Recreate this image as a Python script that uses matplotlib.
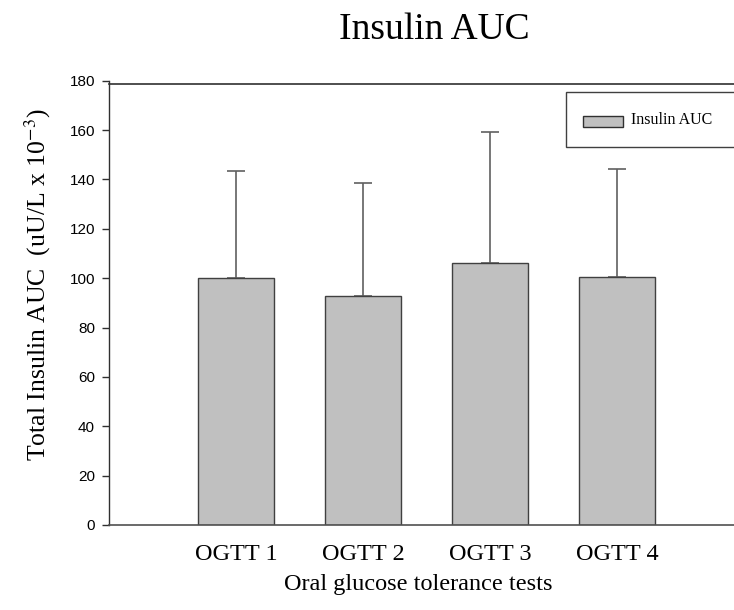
import matplotlib.pyplot as plt
from matplotlib.patches import Rectangle

labels = ["OGTT 1", "OGTT 2", "OGTT 3", "OGTT 4"]
auc_mean = [100.2, 92.8, 106.0, 100.6]
auc_err = [43.4, 45.6, 53.2, 43.6]

serif = ["Times New Roman", "Liberation Serif", "DejaVu Serif"]
sans = ["Arial", "Liberation Sans", "DejaVu Sans"]
plt.rcParams["mathtext.fontset"] = "stix"

fig = plt.figure(figsize=(7.34, 6.1), dpi=100)
ax = fig.add_axes([109/734, 85/610, 625/734, 444.3/610])

x = [1, 2, 3, 4]
ax.bar(x, auc_mean, width=0.6, color="#c0c0c0", edgecolor="#404040", linewidth=1.0, zorder=2)
ax.errorbar(x, auc_mean, yerr=[[0]*4, auc_err], fmt="none", ecolor="#606060",
            elinewidth=1.2, capsize=6.5, capthick=1.2, zorder=1)

ax.set_xlim(0, 4.92)
ax.set_ylim(0, 180)
ax.set_yticks(range(0, 181, 20))
ax.set_xticks(x)
ax.set_xticklabels(labels, family=serif, fontsize=17.5)
for t in ax.get_yticklabels():
    t.set_family(sans)
    t.set_fontsize(11)
ax.tick_params(axis="y", direction="out", length=5, width=1, pad=5, color="#303030")
ax.tick_params(axis="x", length=0, pad=14)

for s in ["top", "right"]:
    ax.spines[s].set_visible(False)
ax.spines["left"].set_color("#303030")
ax.spines["bottom"].set_color("#505050")
ax.spines["left"].set_linewidth(1.0)
ax.spines["bottom"].set_linewidth(1.2)

# top frame line just below the 180 tick
ax.plot([0, 1.0], [0.9926, 0.9926], transform=ax.transAxes, color="#303030",
        linewidth=1.2, clip_on=False)

ax.set_xlabel("Oral glucose tolerance tests", family=serif, fontsize=17.5)
ax.xaxis.set_label_coords(0.494, -0.11)
ax.xaxis.label.set_va("top")
ax.set_ylabel("Total Insulin AUC  (uU/L x 10$^{-3}$)", family=serif, fontsize=18.5)
ax.yaxis.set_label_coords(-0.09, 0.54)

fig.text(434/734, 1 - 30/610, "Insulin AUC", family=serif, fontsize=27,
         ha="center", va="center")

# legend box (runs past the right edge as in the original)
fig.patches.append(Rectangle((566/734, 1 - 147/610), 200/734, 55/610,
                             transform=fig.transFigure, facecolor="white",
                             edgecolor="#404040", linewidth=1.0, figure=fig))
fig.patches.append(Rectangle((583/734, 1 - 127/610), 40/734, 11/610,
                             transform=fig.transFigure, facecolor="#c0c0c0",
                             edgecolor="#303030", linewidth=1.0, figure=fig))
fig.text(631/734, 1 - 120.5/610, "Insulin AUC", family=serif, fontsize=11.5,
         ha="left", va="center")

fig.savefig("out.png", dpi=100)
